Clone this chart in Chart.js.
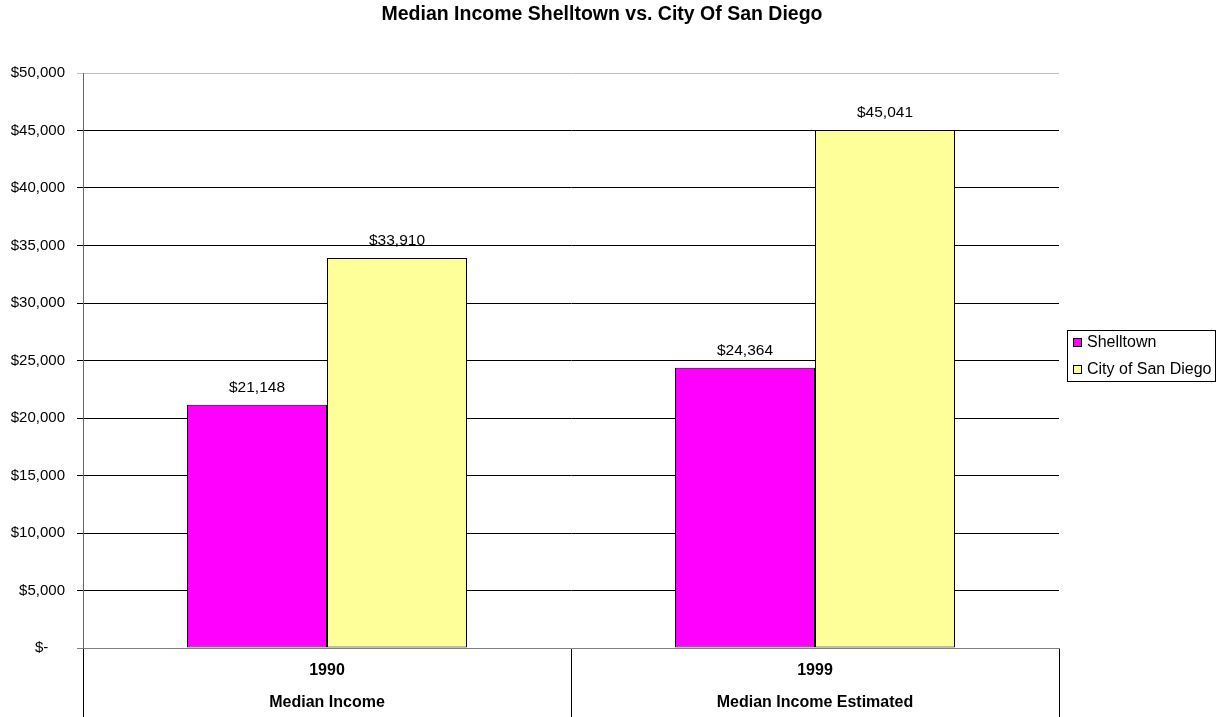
<!DOCTYPE html>
<html>
<head>
<meta charset="utf-8">
<title>Median Income Shelltown vs. City Of San Diego</title>
<script src="https://cdn.jsdelivr.net/npm/chart.js@4/dist/chart.umd.min.js"></script>
<style>
  html, body { margin: 0; padding: 0; background: #fff; }
  canvas { display: block; }
</style>
</head>
<body>
<canvas id="chartIncome" width="1222" height="717"></canvas>
<script>
const years = ['1990', '1999'];
const groups = ['Median Income', 'Median Income Estimated'];
const shelltown = [21148, 24364];
const sanDiego = [33910, 45041];
const seriesNames = ['Shelltown', 'City of San Diego'];
const chartTitle = 'Median Income Shelltown vs. City Of San Diego';

const FONT = "'Liberation Sans', Arial, sans-serif";

function money(v) {
  if (v === 0) return '$-    ';
  return '$' + String(Math.round(v)).replace(/\B(?=(\d{3})+(?!\d))/g, ',');
}

// título centrado sobre todo el lienzo (incluye la leyenda)
const pageTitle = {
  id: 'pageTitle',
  afterDraw(chart) {
    const ctx = chart.ctx;
    ctx.save();
    ctx.font = 'bold 19.5px ' + FONT;
    ctx.fillStyle = '#000';
    ctx.textAlign = 'center';
    ctx.textBaseline = 'middle';
    ctx.fillText(chartTitle, 602, 15);
    ctx.restore();
  }
};

// valores encima de cada barra
const valueLabels = {
  id: 'valueLabels',
  afterDatasetsDraw(chart) {
    const ctx = chart.ctx;
    ctx.save();
    ctx.font = '15.5px ' + FONT;
    ctx.fillStyle = '#000';
    ctx.textAlign = 'center';
    ctx.textBaseline = 'middle';
    chart.data.datasets.forEach((ds, i) => {
      chart.getDatasetMeta(i).data.forEach((bar, j) => {
        ctx.fillText(money(ds.data[j]), bar.x, bar.y - 17);
      });
    });
    ctx.restore();
  }
};

// leyenda con recuadro a la derecha
const boxLegend = {
  id: 'boxLegend',
  afterDraw(chart) {
    const ctx = chart.ctx;
    const left = 1067, top = 330, w = 148, h = 51;
    ctx.save();
    ctx.strokeStyle = '#000';
    ctx.lineWidth = 1;
    ctx.strokeRect(left + 0.5, top + 0.5, w, h);
    ctx.font = '16px ' + FONT;
    ctx.textBaseline = 'middle';
    chart.data.datasets.forEach((ds, i) => {
      const y = top + 13 + i * 27;
      ctx.fillStyle = ds.backgroundColor;
      ctx.fillRect(left + 6.5, y - 4.5, 8, 8);
      ctx.strokeStyle = '#000';
      ctx.strokeRect(left + 6.5, y - 4.5, 8, 8);
      ctx.fillStyle = '#000';
      ctx.fillText(ds.label, left + 20, y);
    });
    ctx.restore();
  }
};

new Chart(document.getElementById('chartIncome'), {
  type: 'bar',
  data: {
    labels: years.map((y, i) => [y, groups[i]]),
    datasets: [
      {
        label: seriesNames[0],
        data: shelltown,
        backgroundColor: '#FF00FF',
        borderColor: '#000',
        borderWidth: 1,
        borderSkipped: false
      },
      {
        label: seriesNames[1],
        data: sanDiego,
        backgroundColor: '#FFFF99',
        borderColor: '#000',
        borderWidth: 1,
        borderSkipped: false
      }
    ]
  },
  options: {
    responsive: false,
    animation: false,
    barPercentage: 1,
    categoryPercentage: 280 / 488,
    layout: { padding: { left: 0, right: 163, top: 73, bottom: 0 } },
    plugins: {
      legend: { display: false },
      tooltip: { enabled: false },
      title: { display: false }
    },
    scales: {
      x: {
        offset: true,
        grid: {
          display: true,
          offset: true,
          drawOnChartArea: false,
          tickLength: 69,
          color: '#000',
          lineWidth: 1
        },
        border: { display: true, color: '#808080', width: 1 },
        ticks: {
          color: '#000',
          padding: -62,
          maxRotation: 0,
          autoSkip: false,
          font: { family: FONT, size: 16, weight: 'bold', lineHeight: 2 }
        },
        afterFit(scale) { scale.height = 69; }
      },
      y: {
        min: 0,
        max: 50000,
        grid: {
          color: (c) => c.tick && c.tick.value === 50000 ? '#c0c0c0' : (c.tick && c.tick.value === 0 ? '#808080' : '#000'),
          lineWidth: 1,
          tickLength: 6
        },
        border: { display: true, color: '#666', width: 1 },
        ticks: {
          stepSize: 5000,
          color: '#000',
          padding: 12,
          font: { family: FONT, size: 15 },
          callback: (v) => money(v)
        },
        afterFit(scale) { scale.width = 83; }
      }
    }
  },
  plugins: [pageTitle, valueLabels, boxLegend]
});
</script>
</body>
</html>
